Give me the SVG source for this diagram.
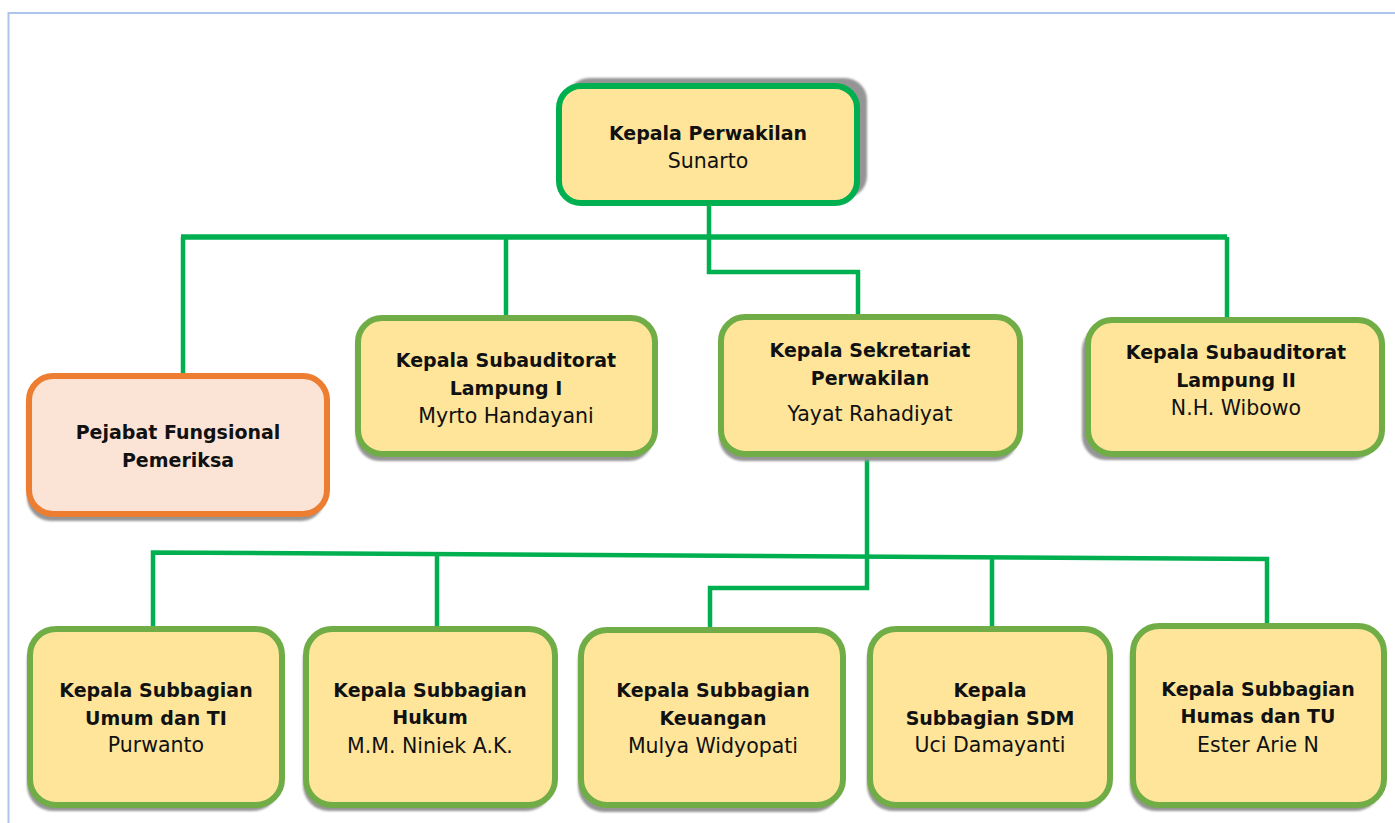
<svg xmlns="http://www.w3.org/2000/svg" width="1395" height="823" viewBox="0 0 1395 823">
<defs>
<filter id="blur" x="-10%" y="-10%" width="120%" height="120%"><feGaussianBlur stdDeviation="0.9"/></filter>
</defs>
<style>
.shadow{fill:#959595;filter:url(#blur)}
.box{fill:#FEE59A;stroke:#70AD47;stroke-width:6}
.top{fill:#FEE59A;stroke:#00B050;stroke-width:6}
.orange{fill:#FBE3D6;stroke:#ED7D31;stroke-width:6}
.conn{fill:none;stroke:#00B050;stroke-width:4.5;stroke-linejoin:miter}
.t{font-family:"DejaVu Sans",sans-serif;font-size:19px;font-weight:bold;fill:#111;text-anchor:middle}
.n{font-family:"DejaVu Sans",sans-serif;font-size:20.5px;fill:#111;text-anchor:middle}
</style>
<rect x="0" y="0" width="1395" height="823" fill="#ffffff"/>
<path d="M8.5,823 V13 H1395" fill="none" stroke="#AFC4EA" stroke-width="2"/>

<g id="connectors">
<path class="conn" d="M709,206 V272 H858 V316"/>
<path class="conn" d="M181,237 H1227" style="stroke-width:5.5"/>
<path class="conn" d="M183,237 V375"/>
<path class="conn" d="M506,237 V317"/>
<path class="conn" d="M1227,237 V319"/>
<path class="conn" d="M867,457 V588 H710 V628"/>
<path class="conn" d="M153,628 V552.5 L1267,559 V625"/>
<path class="conn" d="M437,554 V628"/>
<path class="conn" d="M992,558 V628"/>
</g>

<g id="node-kepala-perwakilan">
<rect class="shadow" x="567" y="78" width="300" height="120" rx="22"/>
<rect class="top" x="559" y="86" width="298" height="117" rx="22"/>
<text class="t" x="708" y="140">Kepala Perwakilan</text>
<text class="n" x="708" y="168">Sunarto</text>
</g>

<g id="node-pejabat-fungsional">
<rect class="shadow" x="27" y="383" width="298" height="138" rx="24"/>
<rect class="orange" x="29" y="376" width="298" height="138" rx="24"/>
<text class="t" x="178" y="439">Pejabat Fungsional</text>
<text class="t" x="178" y="467">Pemeriksa</text>
</g>

<g id="node-subauditorat-1">
<rect class="shadow" x="356" y="325" width="297" height="136" rx="24"/>
<rect class="box" x="358" y="318" width="297" height="136" rx="24"/>
<text class="t" x="506" y="367">Kepala Subauditorat</text>
<text class="t" x="506" y="395">Lampung I</text>
<text class="n" x="506" y="423">Myrto Handayani</text>
</g>

<g id="node-sekretariat">
<rect class="shadow" x="719" y="324" width="299" height="137" rx="24"/>
<rect class="box" x="721" y="317" width="299" height="137" rx="24"/>
<text class="t" x="870" y="357">Kepala Sekretariat</text>
<text class="t" x="870" y="385">Perwakilan</text>
<text class="n" x="870" y="421">Yayat Rahadiyat</text>
</g>

<g id="node-subauditorat-2">
<rect class="shadow" x="1082" y="326" width="294" height="134" rx="24"/>
<rect class="box" x="1088" y="320" width="294" height="134" rx="24"/>
<text class="t" x="1236" y="359">Kepala Subauditorat</text>
<text class="t" x="1236" y="387">Lampung II</text>
<text class="n" x="1236" y="415">N.H. Wibowo</text>
</g>

<g id="node-umum">
<rect class="shadow" x="27" y="635" width="252" height="176" rx="26"/>
<rect class="box" x="30" y="629" width="252" height="176" rx="26"/>
<text class="t" x="156" y="697">Kepala Subbagian</text>
<text class="t" x="156" y="725">Umum dan TI</text>
<text class="n" x="156" y="752">Purwanto</text>
</g>

<g id="node-hukum">
<rect class="shadow" x="303" y="635" width="249" height="176" rx="26"/>
<rect class="box" x="306" y="629" width="249" height="176" rx="26"/>
<text class="t" x="430" y="697">Kepala Subbagian</text>
<text class="t" x="430" y="724">Hukum</text>
<text class="n" x="430" y="753">M.M. Niniek A.K.</text>
</g>

<g id="node-keuangan">
<rect class="shadow" x="578" y="636" width="262" height="176" rx="26"/>
<rect class="box" x="581" y="630" width="262" height="175" rx="26"/>
<text class="t" x="713" y="697">Kepala Subbagian</text>
<text class="t" x="713" y="725">Keuangan</text>
<text class="n" x="713" y="753">Mulya Widyopati</text>
</g>

<g id="node-sdm">
<rect class="shadow" x="867" y="635" width="240" height="176" rx="26"/>
<rect class="box" x="870" y="629" width="240" height="176" rx="26"/>
<text class="t" x="990" y="697">Kepala</text>
<text class="t" x="990" y="725">Subbagian SDM</text>
<text class="n" x="990" y="752">Uci Damayanti</text>
</g>

<g id="node-humas">
<rect class="shadow" x="1130" y="632" width="251" height="179" rx="26"/>
<rect class="box" x="1133" y="626" width="251" height="179" rx="26"/>
<text class="t" x="1258" y="696">Kepala Subbagian</text>
<text class="t" x="1258" y="723">Humas dan TU</text>
<text class="n" x="1258" y="752">Ester Arie N</text>
</g>
</svg>
